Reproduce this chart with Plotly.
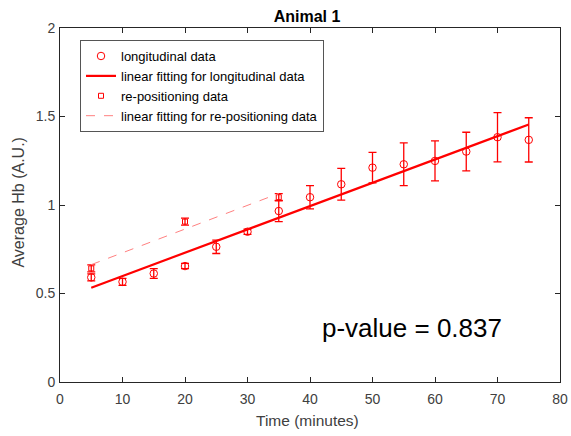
import numpy as np
import plotly.graph_objects as go

# Longitudinal data
long_x = [5, 10, 15, 20, 25, 30, 35, 40, 45, 50, 55, 60, 65, 70, 75]
long_y = [0.591, 0.566, 0.613, 0.655, 0.764, 0.849, 0.966, 1.044, 1.117, 1.211, 1.230, 1.249, 1.302, 1.383, 1.368]
long_err = [0.02, 0.02, 0.028, 0.015, 0.038, 0.015, 0.06, 0.066, 0.09, 0.086, 0.121, 0.113, 0.109, 0.139, 0.125]

# Re-positioning data
rep_x = [5, 20, 35]
rep_y = [0.642, 0.906, 1.044]
rep_err = [0.02, 0.02, 0.02]

x_ticks = [0, 10, 20, 30, 40, 50, 60, 70, 80]
y_ticks = [0, 0.5, 1, 1.5, 2]
y_tick_labels = ["0", "0.5", "1", "1.5", "2"]

RED = "#ff0000"
AX = "#262626"
GREY = "#404040"
FONT = "Liberation Sans, Arial, sans-serif"

# Linear fits
lp = np.polyfit(long_x, long_y, 1)
rp = np.polyfit(rep_x, rep_y, 1)
lfx = [min(long_x), max(long_x)]
rfx = [min(rep_x), max(rep_x)]

fig = go.Figure()
fig.add_trace(go.Scatter(
    x=long_x, y=long_y, mode="markers", name="longitudinal data",
    marker=dict(symbol="circle-open", size=7.5, color=RED, line=dict(width=1, color=RED)),
    error_y=dict(type="data", array=long_err, color=RED, thickness=1.3, width=4),
))
fig.add_trace(go.Scatter(
    x=lfx, y=list(np.polyval(lp, lfx)), mode="lines",
    name="linear fitting for longitudinal data",
    line=dict(color=RED, width=2.2),
))
fig.add_trace(go.Scatter(
    x=rep_x, y=rep_y, mode="markers", name="re-positioning data",
    marker=dict(symbol="square-open", size=5, color=RED, line=dict(width=1, color=RED)),
    error_y=dict(type="data", array=rep_err, color=RED, thickness=1.3, width=4),
))
fig.add_trace(go.Scatter(
    x=rfx, y=list(np.polyval(rp, rfx)), mode="lines",
    name="linear fitting for re-positioning data",
    line=dict(color="#ff8080", width=1, dash="dash"),
))

fig.add_annotation(x=56.3, y=0.305, xref="x", yref="y", text="p-value = 0.837",
                   showarrow=False, font=dict(size=26, color="black", family=FONT))

# Axis titles
fig.add_annotation(x=0.494, y=0, xref="paper", yref="paper", yshift=-38,
                   text="Time (minutes)", showarrow=False, yanchor="middle",
                   font=dict(size=15.5, color=GREY, family=FONT))
fig.add_annotation(x=0, y=0.507, xref="paper", yref="paper", xshift=-41,
                   text="Average Hb (A.U.)", showarrow=False, textangle=-90,
                   xanchor="center", yanchor="middle",
                   font=dict(size=16, color=GREY, family=FONT))

axis_common = dict(
    showgrid=False, zeroline=False, showline=True, linecolor=AX, linewidth=1,
    mirror="ticks", ticks="inside", ticklen=5, tickcolor=AX, automargin=False,
    tickfont=dict(size=14, color=GREY, family=FONT),
)

fig.update_layout(
    width=571, height=436,
    margin=dict(l=60, r=11, t=28, b=54),
    paper_bgcolor="white", plot_bgcolor="white",
    font=dict(family=FONT, color=GREY, size=12),
    title=dict(text="<b>Animal 1</b>", x=0.5377, xanchor="center", y=0.9617, yanchor="middle",
               font=dict(size=16, color="black", family=FONT)),
    xaxis=dict(range=[0, 80], tickvals=x_ticks, ticklabelstandoff=4, **axis_common),
    yaxis=dict(range=[0, 2], tickvals=y_ticks, ticktext=y_tick_labels, ticklabelstandoff=1,
               **axis_common),
    legend=dict(x=0.04, y=0.966, xanchor="left", yanchor="top",
                bgcolor="white", bordercolor="#555555", borderwidth=1,
                font=dict(size=13, color="black", family=FONT),
                tracegroupgap=0, itemwidth=30),
    showlegend=True,
)

fig.write_html("out.html")
